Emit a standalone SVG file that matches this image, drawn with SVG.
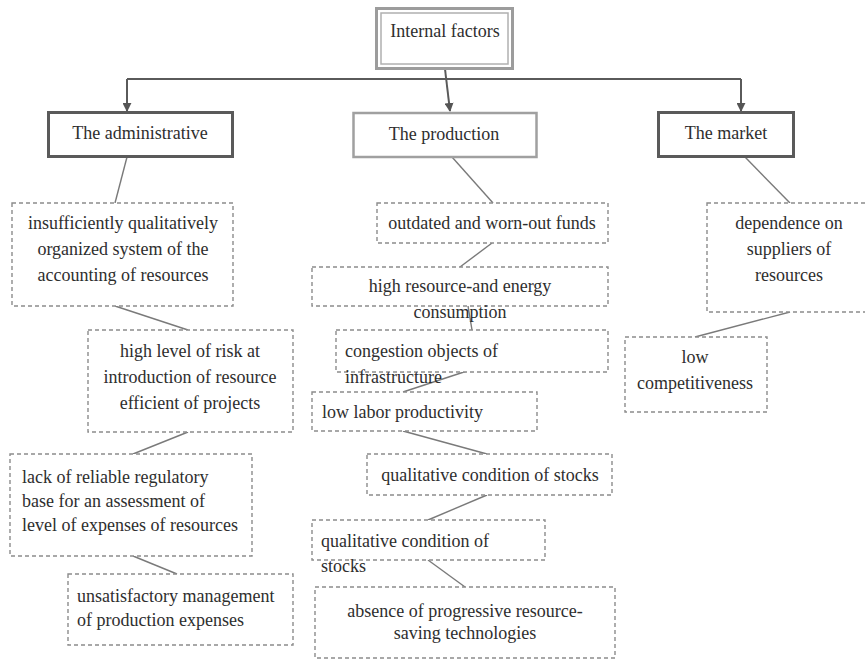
<svg xmlns="http://www.w3.org/2000/svg" width="865" height="661" viewBox="0 0 865 661">
<defs>
<style>
text{font-family:"Liberation Serif","Times New Roman",serif;font-size:18px;fill:#2e2e2e}
.c{text-anchor:middle}
.d{fill:#fff;stroke:#8c8c8c;stroke-width:1.4;stroke-dasharray:4 3}
.h{fill:#fff;stroke:#5a5a5a;stroke-width:3}
.hl{fill:#fff;stroke:#a0a0a0;stroke-width:2.5}
.ln{fill:none;stroke:#7a7a7a;stroke-width:1.4}
.tr{fill:none;stroke:#5a5a5a;stroke-width:2}
</style>
<marker id="ar" viewBox="0 0 10 10" refX="9" refY="5" markerWidth="4.5" markerHeight="4.5" orient="auto">
<path d="M0,0 L10,5 L0,10 z" fill="#555"/>
</marker>
</defs>
<rect width="865" height="661" fill="#fff"/>

<g id="connectors">
<path class="tr" d="M127,79 H741"/>
<path class="tr" d="M127,79 V111" marker-end="url(#ar)"/>
<path class="tr" d="M741,79 V111" marker-end="url(#ar)"/>
<path class="tr" d="M445,69 L450,111" marker-end="url(#ar)"/>
<path class="ln" d="M127,157 L115,203"/>
<path class="ln" d="M115,306 L188,330"/>
<path class="ln" d="M188,432 L133,454"/>
<path class="ln" d="M133,556 L177,574"/>
<path class="ln" d="M452,157 L493,203"/>
<path class="ln" d="M492,243 L460,267"/>
<path class="ln" d="M468,306 L472,330"/>
<path class="ln" d="M467,371 L403,392"/>
<path class="ln" d="M403,431 L487,454"/>
<path class="ln" d="M487,495 L428,520"/>
<path class="ln" d="M428,560 L465,587"/>
<path class="ln" d="M745,157 L790,203"/>
<path class="ln" d="M790,312 L695,337"/>
</g>

<g id="internal">
<rect x="376.5" y="8.5" width="136" height="60" fill="#fff" stroke="#9c9c9c" stroke-width="3"/>
<rect x="381" y="13" width="127" height="51" fill="none" stroke="#b0b0b0" stroke-width="1.5"/>
<text class="c" x="445" y="37">Internal  factors</text>
</g>

<g id="administrative">
<rect class="h" x="48.5" y="112.5" width="184" height="44"/>
<text class="c" x="140" y="139">The administrative</text>
</g>
<g id="production">
<rect class="hl" x="353.5" y="113" width="183" height="44"/>
<text class="c" x="444" y="140">The production</text>
</g>
<g id="market">
<rect class="h" x="658.5" y="112.5" width="135" height="44"/>
<text class="c" x="726" y="139">The market</text>
</g>

<g id="a1">
<rect class="d" x="12" y="203" width="221" height="103"/>
<text class="c" x="123" y="229">insufficiently qualitatively</text>
<text class="c" x="123" y="255">organized system of the</text>
<text class="c" x="123" y="281">accounting of resources</text>
</g>
<g id="a2">
<rect class="d" x="88" y="330" width="205" height="102"/>
<text class="c" x="190" y="357">high level of risk at</text>
<text class="c" x="190" y="383">introduction of resource</text>
<text class="c" x="190" y="409">efficient of projects</text>
</g>
<g id="a3">
<rect class="d" x="10" y="454" width="242" height="102"/>
<text x="22" y="483">lack of reliable regulatory</text>
<text x="22" y="507">base for an assessment  of</text>
<text x="22" y="531">level of expenses of resources</text>
</g>
<g id="a4">
<rect class="d" x="68" y="574" width="225" height="71"/>
<text x="77" y="602">unsatisfactory  management</text>
<text x="77" y="626">of production expenses</text>
</g>

<g id="p1">
<rect class="d" x="377" y="203" width="231" height="40"/>
<text class="c" x="492" y="229">outdated and worn-out  funds</text>
</g>
<g id="p2">
<rect class="d" x="312" y="267" width="296" height="39"/>
<text class="c" x="460" y="292">high resource-and energy</text>
<text class="c" x="460" y="318">consumption</text>
</g>
<g id="p3">
<rect class="d" x="336" y="330" width="272" height="42"/>
<text x="345" y="357">congestion objects of</text>
<text x="345" y="383">infrastructure</text>
</g>
<g id="p4">
<rect class="d" x="312" y="392" width="225" height="39"/>
<text x="322" y="418">low labor productivity</text>
</g>
<g id="p5">
<rect class="d" x="367" y="454" width="245" height="41"/>
<text class="c" x="490" y="481">qualitative condition of stocks</text>
</g>
<g id="p6">
<rect class="d" x="312" y="520" width="233" height="40"/>
<text x="321" y="547">qualitative condition of</text>
<text x="321" y="572">stocks</text>
</g>
<g id="p7">
<rect class="d" x="315" y="587" width="300" height="71"/>
<text class="c" x="465" y="617">absence of progressive  resource-</text>
<text class="c" x="465" y="639">saving technologies</text>
</g>

<g id="m1">
<rect class="d" x="707" y="203" width="162" height="109"/>
<text class="c" x="789" y="229">dependence on</text>
<text class="c" x="789" y="255">suppliers of</text>
<text class="c" x="789" y="281">resources</text>
</g>
<g id="m2">
<rect class="d" x="625" y="337" width="142" height="75"/>
<text class="c" x="695" y="363">low</text>
<text class="c" x="695" y="389">competitiveness</text>
</g>
</svg>
